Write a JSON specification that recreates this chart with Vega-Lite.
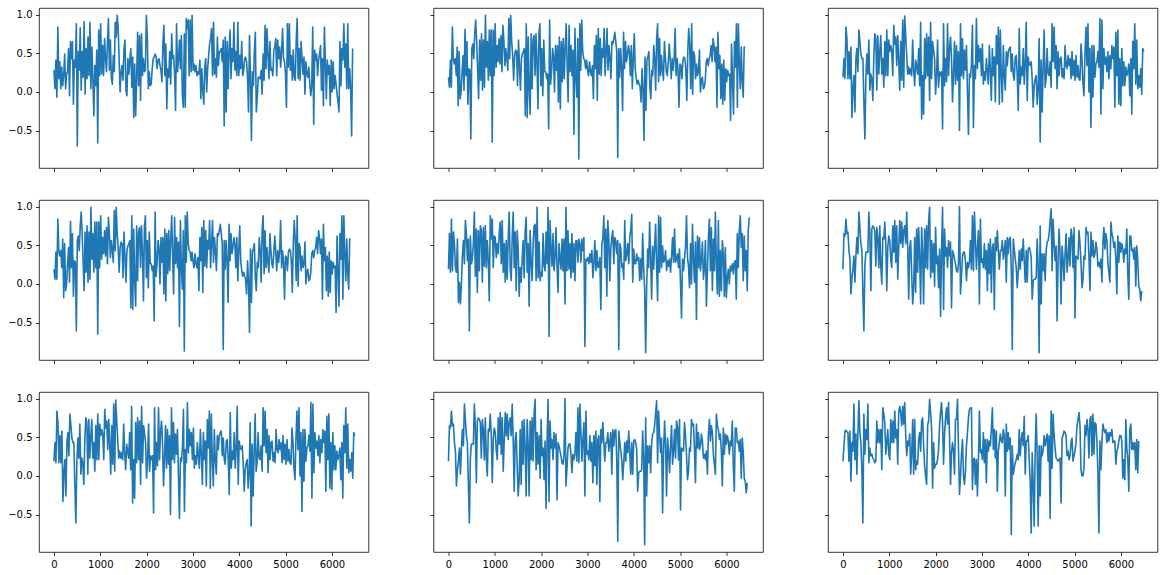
{
"$schema": "https://vega.github.io/schema/vega-lite/v6.json",
"background": "white",
"padding": {"left": 7, "top": 7, "right": 5, "bottom": 5},
"bounds": "flush",
"columns": 3,
"spacing": {"row": 32, "column": 64.5},
"resolve": {"scale": {"x": "independent", "y": "independent"}, "axis": {"x": "independent", "y": "independent"}},
"config": {
"view": {"stroke": "#000", "strokeWidth": 0.8},
"axis": {"grid": false, "domain": false, "tickColor": "#000", "tickSize": 3.5, "tickWidth": 0.8, "labelColor": "#000", "labelFont": "DejaVu Sans", "labelFontSize": 10, "labelPadding": 3.5, "labelFlush": false},
"line": {"color": "#1f77b4", "strokeWidth": 1.6, "strokeJoin": "round"}
},
"datasets": {
"A": [{"x":0,"y":0.28},{"x":21,"y":0.04},{"x":42,"y":0.41},{"x":63,"y":-0.07},{"x":84,"y":0.84},{"x":105,"y":0.17},{"x":126,"y":0.39},{"x":147,"y":0.04},{"x":168,"y":0.32},{"x":189,"y":0.08},
{"x":210,"y":0.21},{"x":231,"y":0.49},{"x":252,"y":0.04},{"x":273,"y":0.23},{"x":294,"y":0.26},{"x":315,"y":0.56},{"x":336,"y":-0.05},{"x":357,"y":0.65},{"x":378,"y":0.43},{"x":399,"y":0.65},
{"x":420,"y":-0.16},{"x":441,"y":0.41},{"x":462,"y":0.32},{"x":483,"y":0.88},{"x":504,"y":-0.70},{"x":525,"y":0.52},{"x":546,"y":0.28},{"x":567,"y":0.83},{"x":588,"y":0.02},{"x":609,"y":0.52},
{"x":630,"y":0.19},{"x":651,"y":0.91},{"x":672,"y":-0.03},{"x":693,"y":0.56},{"x":714,"y":0.17},{"x":735,"y":0.71},{"x":756,"y":0.21},{"x":777,"y":0.90},{"x":798,"y":0.04},{"x":819,"y":0.58},
{"x":840,"y":0.17},{"x":861,"y":-0.31},{"x":882,"y":0.34},{"x":903,"y":0.08},{"x":924,"y":0.54},{"x":945,"y":-0.66},{"x":966,"y":0.80},{"x":987,"y":0.21},{"x":1008,"y":0.88},{"x":1029,"y":0.23},
{"x":1050,"y":0.60},{"x":1071,"y":0.21},{"x":1092,"y":0.69},{"x":1113,"y":0.43},{"x":1134,"y":0.26},{"x":1155,"y":0.65},{"x":1176,"y":0.95},{"x":1197,"y":0.28},{"x":1218,"y":0.67},{"x":1239,"y":0.17},
{"x":1260,"y":0.10},{"x":1281,"y":0.47},{"x":1302,"y":0.26},{"x":1323,"y":0.90},{"x":1344,"y":0.71},{"x":1365,"y":0.99},{"x":1386,"y":0.82},{"x":1407,"y":0.41},{"x":1428,"y":0.00},{"x":1449,"y":0.26},
{"x":1470,"y":0.34},{"x":1491,"y":0.15},{"x":1512,"y":0.56},{"x":1533,"y":0.67},{"x":1554,"y":0.02},{"x":1575,"y":-0.05},{"x":1596,"y":0.43},{"x":1617,"y":0.23},{"x":1638,"y":0.41},{"x":1659,"y":0.56},
{"x":1680,"y":0.06},{"x":1701,"y":0.45},{"x":1722,"y":-0.33},{"x":1743,"y":0.36},{"x":1764,"y":-0.31},{"x":1785,"y":0.17},{"x":1806,"y":0.77},{"x":1827,"y":0.08},{"x":1848,"y":0.73},{"x":1869,"y":-0.11},
{"x":1890,"y":0.75},{"x":1911,"y":0.21},{"x":1932,"y":0.43},{"x":1953,"y":0.26},{"x":1974,"y":0.28},{"x":1995,"y":0.99},{"x":2016,"y":0.69},{"x":2037,"y":0.04},{"x":2058,"y":0.26},{"x":2079,"y":0.08},
{"x":2100,"y":0.10},{"x":2121,"y":0.30},{"x":2142,"y":0.43},{"x":2163,"y":0.45},{"x":2184,"y":0.49},{"x":2205,"y":0.45},{"x":2226,"y":0.30},{"x":2247,"y":0.41},{"x":2268,"y":0.43},{"x":2289,"y":0.34},
{"x":2310,"y":0.28},{"x":2331,"y":0.13},{"x":2352,"y":0.62},{"x":2373,"y":0.86},{"x":2394,"y":0.21},{"x":2415,"y":0.62},{"x":2436,"y":-0.22},{"x":2457,"y":0.30},{"x":2478,"y":0.19},{"x":2499,"y":0.52},
{"x":2520,"y":0.10},{"x":2541,"y":0.75},{"x":2562,"y":0.43},{"x":2583,"y":0.47},{"x":2604,"y":0.23},{"x":2625,"y":-0.24},{"x":2646,"y":0.88},{"x":2667,"y":0.26},{"x":2688,"y":0.41},{"x":2709,"y":0.67},
{"x":2730,"y":0.30},{"x":2751,"y":0.73},{"x":2772,"y":-0.05},{"x":2793,"y":-0.20},{"x":2814,"y":0.75},{"x":2835,"y":-0.20},{"x":2856,"y":0.95},{"x":2877,"y":0.82},{"x":2898,"y":0.93},{"x":2919,"y":0.21},
{"x":2940,"y":0.93},{"x":2961,"y":0.26},{"x":2982,"y":0.99},{"x":3003,"y":0.28},{"x":3024,"y":0.36},{"x":3045,"y":0.26},{"x":3066,"y":0.34},{"x":3087,"y":0.21},{"x":3108,"y":0.26},{"x":3129,"y":0.23},
{"x":3150,"y":0.41},{"x":3171,"y":-0.09},{"x":3192,"y":0.30},{"x":3213,"y":0.02},{"x":3234,"y":-0.16},{"x":3255,"y":0.32},{"x":3276,"y":0.43},{"x":3297,"y":0.00},{"x":3318,"y":0.30},{"x":3339,"y":0.47},
{"x":3360,"y":0.62},{"x":3381,"y":0.69},{"x":3402,"y":0.82},{"x":3423,"y":0.21},{"x":3444,"y":0.90},{"x":3465,"y":0.23},{"x":3486,"y":0.43},{"x":3507,"y":0.19},{"x":3528,"y":0.71},{"x":3549,"y":0.34},
{"x":3570,"y":0.52},{"x":3591,"y":0.52},{"x":3612,"y":0.56},{"x":3633,"y":0.39},{"x":3654,"y":0.67},{"x":3675,"y":-0.44},{"x":3696,"y":0.71},{"x":3717,"y":-0.26},{"x":3738,"y":0.65},{"x":3759,"y":0.04},
{"x":3780,"y":0.54},{"x":3801,"y":0.80},{"x":3822,"y":0.17},{"x":3843,"y":0.56},{"x":3864,"y":0.39},{"x":3885,"y":0.90},{"x":3906,"y":0.28},{"x":3927,"y":0.52},{"x":3948,"y":0.21},{"x":3969,"y":0.90},
{"x":3990,"y":0.21},{"x":4011,"y":0.47},{"x":4032,"y":0.30},{"x":4053,"y":0.65},{"x":4074,"y":0.21},{"x":4095,"y":0.28},{"x":4116,"y":0.43},{"x":4137,"y":0.45},{"x":4158,"y":0.39},{"x":4179,"y":0.19},
{"x":4200,"y":-0.26},{"x":4221,"y":0.73},{"x":4242,"y":0.19},{"x":4263,"y":-0.63},{"x":4284,"y":0.26},{"x":4305,"y":0.08},{"x":4326,"y":0.52},{"x":4347,"y":0.77},{"x":4368,"y":-0.26},{"x":4389,"y":-0.07},
{"x":4410,"y":0.19},{"x":4431,"y":0.19},{"x":4452,"y":0.17},{"x":4473,"y":0.28},{"x":4494,"y":-0.03},{"x":4515,"y":0.49},{"x":4536,"y":0.15},{"x":4557,"y":0.86},{"x":4578,"y":0.30},{"x":4599,"y":0.82},
{"x":4620,"y":0.49},{"x":4641,"y":0.17},{"x":4662,"y":0.65},{"x":4683,"y":0.28},{"x":4704,"y":0.30},{"x":4725,"y":0.21},{"x":4746,"y":0.54},{"x":4767,"y":0.58},{"x":4788,"y":0.69},{"x":4809,"y":0.21},
{"x":4830,"y":0.67},{"x":4851,"y":0.43},{"x":4872,"y":0.58},{"x":4893,"y":0.32},{"x":4914,"y":0.52},{"x":4935,"y":0.82},{"x":4956,"y":0.43},{"x":4977,"y":0.39},{"x":4998,"y":0.23},{"x":5019,"y":-0.20},
{"x":5040,"y":0.88},{"x":5061,"y":0.32},{"x":5082,"y":0.88},{"x":5103,"y":0.28},{"x":5124,"y":0.47},{"x":5145,"y":0.15},{"x":5166,"y":0.54},{"x":5187,"y":0.19},{"x":5208,"y":0.15},{"x":5229,"y":0.65},
{"x":5250,"y":0.95},{"x":5271,"y":0.17},{"x":5292,"y":0.56},{"x":5313,"y":0.15},{"x":5334,"y":0.65},{"x":5355,"y":0.43},{"x":5376,"y":0.23},{"x":5397,"y":0.45},{"x":5418,"y":-0.03},{"x":5439,"y":0.39},
{"x":5460,"y":0.23},{"x":5481,"y":0.19},{"x":5502,"y":0.32},{"x":5523,"y":0.10},{"x":5544,"y":-0.05},{"x":5565,"y":0.08},{"x":5586,"y":0.84},{"x":5607,"y":-0.42},{"x":5628,"y":0.54},{"x":5649,"y":0.41},
{"x":5670,"y":0.49},{"x":5691,"y":0.21},{"x":5712,"y":0.41},{"x":5733,"y":0.49},{"x":5754,"y":0.60},{"x":5775,"y":0.02},{"x":5796,"y":0.43},{"x":5817,"y":-0.18},{"x":5838,"y":0.84},{"x":5859,"y":0.39},
{"x":5880,"y":-0.09},{"x":5901,"y":0.41},{"x":5922,"y":0.23},{"x":5943,"y":0.34},{"x":5964,"y":-0.18},{"x":5985,"y":0.41},{"x":6006,"y":0.00},{"x":6027,"y":0.39},{"x":6048,"y":0.04},{"x":6069,"y":0.21},
{"x":6090,"y":0.10},{"x":6111,"y":-0.03},{"x":6132,"y":-0.13},{"x":6153,"y":-0.26},{"x":6174,"y":0.65},{"x":6195,"y":0.08},{"x":6216,"y":0.56},{"x":6237,"y":0.41},{"x":6258,"y":0.88},{"x":6279,"y":0.32},
{"x":6300,"y":0.62},{"x":6321,"y":0.04},{"x":6342,"y":0.88},{"x":6363,"y":0.04},{"x":6384,"y":0.30},{"x":6405,"y":0.04},{"x":6426,"y":-0.57},{"x":6447,"y":0.56}],
"B": [{"x":0,"y":0.19},{"x":21,"y":0.06},{"x":42,"y":0.41},{"x":63,"y":0.06},{"x":84,"y":0.84},{"x":105,"y":0.43},{"x":126,"y":0.36},{"x":147,"y":0.43},{"x":168,"y":0.21},{"x":189,"y":0.58},
{"x":210,"y":-0.18},{"x":231,"y":0.52},{"x":252,"y":-0.09},{"x":273,"y":0.00},{"x":294,"y":0.26},{"x":315,"y":0.47},{"x":336,"y":0.02},{"x":357,"y":0.81},{"x":378,"y":0.21},{"x":399,"y":0.65},
{"x":420,"y":-0.16},{"x":441,"y":0.30},{"x":462,"y":0.28},{"x":483,"y":-0.61},{"x":504,"y":0.56},{"x":525,"y":0.62},{"x":546,"y":0.43},{"x":567,"y":0.75},{"x":588,"y":0.93},{"x":609,"y":0.65},
{"x":630,"y":0.28},{"x":651,"y":-0.09},{"x":672,"y":0.67},{"x":693,"y":0.15},{"x":714,"y":0.75},{"x":735,"y":0.02},{"x":756,"y":0.67},{"x":777,"y":0.06},{"x":798,"y":0.99},{"x":819,"y":0.32},
{"x":840,"y":0.65},{"x":861,"y":0.15},{"x":882,"y":0.80},{"x":903,"y":0.21},{"x":924,"y":0.80},{"x":945,"y":-0.65},{"x":966,"y":0.80},{"x":987,"y":0.21},{"x":1008,"y":0.88},{"x":1029,"y":0.32},
{"x":1050,"y":0.60},{"x":1071,"y":0.39},{"x":1092,"y":0.69},{"x":1113,"y":0.36},{"x":1134,"y":0.73},{"x":1155,"y":0.26},{"x":1176,"y":0.86},{"x":1197,"y":0.65},{"x":1218,"y":0.34},{"x":1239,"y":0.56},
{"x":1260,"y":0.43},{"x":1281,"y":0.28},{"x":1302,"y":0.95},{"x":1323,"y":0.43},{"x":1344,"y":0.99},{"x":1365,"y":0.65},{"x":1386,"y":0.47},{"x":1407,"y":0.15},{"x":1428,"y":0.47},{"x":1449,"y":0.54},
{"x":1470,"y":0.52},{"x":1491,"y":0.08},{"x":1512,"y":0.67},{"x":1533,"y":0.34},{"x":1554,"y":0.02},{"x":1575,"y":0.43},{"x":1596,"y":0.49},{"x":1617,"y":0.52},{"x":1638,"y":0.56},{"x":1659,"y":-0.31},
{"x":1680,"y":0.88},{"x":1701,"y":-0.33},{"x":1722,"y":0.71},{"x":1743,"y":0.02},{"x":1764,"y":-0.29},{"x":1785,"y":0.75},{"x":1806,"y":0.04},{"x":1827,"y":0.67},{"x":1848,"y":0.73},{"x":1869,"y":0.21},
{"x":1890,"y":0.75},{"x":1911,"y":0.39},{"x":1932,"y":-0.22},{"x":1953,"y":0.75},{"x":1974,"y":0.88},{"x":1995,"y":0.08},{"x":2016,"y":0.56},{"x":2037,"y":-0.05},{"x":2058,"y":0.67},{"x":2079,"y":0.26},
{"x":2100,"y":0.26},{"x":2121,"y":0.17},{"x":2142,"y":0.23},{"x":2163,"y":-0.48},{"x":2184,"y":0.93},{"x":2205,"y":0.10},{"x":2226,"y":0.26},{"x":2247,"y":0.56},{"x":2268,"y":0.47},{"x":2289,"y":0.00},
{"x":2310,"y":0.60},{"x":2331,"y":0.28},{"x":2352,"y":0.60},{"x":2373,"y":-0.13},{"x":2394,"y":0.71},{"x":2415,"y":-0.22},{"x":2436,"y":0.65},{"x":2457,"y":0.13},{"x":2478,"y":0.69},{"x":2499,"y":0.17},
{"x":2520,"y":0.56},{"x":2541,"y":0.88},{"x":2562,"y":0.36},{"x":2583,"y":-0.13},{"x":2604,"y":0.86},{"x":2625,"y":0.26},{"x":2646,"y":0.60},{"x":2667,"y":0.21},{"x":2688,"y":0.54},{"x":2709,"y":-0.55},
{"x":2730,"y":0.82},{"x":2751,"y":0.21},{"x":2772,"y":-0.07},{"x":2793,"y":0.69},{"x":2814,"y":-0.87},{"x":2835,"y":0.88},{"x":2856,"y":0.28},{"x":2877,"y":0.93},{"x":2898,"y":0.52},{"x":2919,"y":0.43},
{"x":2940,"y":0.41},{"x":2961,"y":0.30},{"x":2982,"y":0.41},{"x":3003,"y":0.28},{"x":3024,"y":0.21},{"x":3045,"y":0.39},{"x":3066,"y":0.26},{"x":3087,"y":0.21},{"x":3108,"y":0.34},{"x":3129,"y":-0.09},
{"x":3150,"y":0.60},{"x":3171,"y":0.30},{"x":3192,"y":0.73},{"x":3213,"y":-0.11},{"x":3234,"y":0.82},{"x":3255,"y":0.23},{"x":3276,"y":0.69},{"x":3297,"y":0.21},{"x":3318,"y":0.56},{"x":3339,"y":0.45},
{"x":3360,"y":0.82},{"x":3381,"y":0.21},{"x":3402,"y":0.52},{"x":3423,"y":0.82},{"x":3444,"y":0.28},{"x":3465,"y":0.60},{"x":3486,"y":0.43},{"x":3507,"y":0.17},{"x":3528,"y":0.65},{"x":3549,"y":0.62},
{"x":3570,"y":0.69},{"x":3591,"y":0.77},{"x":3612,"y":0.65},{"x":3633,"y":0.52},{"x":3654,"y":-0.85},{"x":3675,"y":0.56},{"x":3696,"y":0.19},{"x":3717,"y":0.56},{"x":3738,"y":0.30},{"x":3759,"y":-0.24},
{"x":3780,"y":0.77},{"x":3801,"y":0.30},{"x":3822,"y":0.65},{"x":3843,"y":0.39},{"x":3864,"y":0.47},{"x":3885,"y":0.60},{"x":3906,"y":0.52},{"x":3927,"y":0.21},{"x":3948,"y":0.60},{"x":3969,"y":0.04},
{"x":3990,"y":0.43},{"x":4011,"y":0.75},{"x":4032,"y":0.30},{"x":4053,"y":0.17},{"x":4074,"y":0.10},{"x":4095,"y":0.15},{"x":4116,"y":0.10},{"x":4137,"y":0.06},{"x":4158,"y":-0.13},{"x":4179,"y":0.30},
{"x":4200,"y":0.04},{"x":4221,"y":-0.63},{"x":4242,"y":0.45},{"x":4263,"y":-0.24},{"x":4284,"y":0.41},{"x":4305,"y":0.45},{"x":4326,"y":0.52},{"x":4347,"y":0.08},{"x":4368,"y":-0.09},{"x":4389,"y":0.28},
{"x":4410,"y":0.21},{"x":4431,"y":0.60},{"x":4452,"y":0.43},{"x":4473,"y":0.02},{"x":4494,"y":0.69},{"x":4515,"y":0.88},{"x":4536,"y":0.13},{"x":4557,"y":0.69},{"x":4578,"y":0.21},{"x":4599,"y":0.47},
{"x":4620,"y":0.28},{"x":4641,"y":0.15},{"x":4662,"y":0.65},{"x":4683,"y":0.43},{"x":4704,"y":0.26},{"x":4725,"y":0.21},{"x":4746,"y":0.41},{"x":4767,"y":0.62},{"x":4788,"y":0.41},{"x":4809,"y":0.17},
{"x":4830,"y":0.43},{"x":4851,"y":0.28},{"x":4872,"y":0.43},{"x":4893,"y":0.82},{"x":4914,"y":0.21},{"x":4935,"y":0.43},{"x":4956,"y":0.28},{"x":4977,"y":-0.20},{"x":4998,"y":0.36},{"x":5019,"y":0.34},
{"x":5040,"y":0.17},{"x":5061,"y":0.41},{"x":5082,"y":0.45},{"x":5103,"y":0.43},{"x":5124,"y":0.30},{"x":5145,"y":-0.11},{"x":5166,"y":0.52},{"x":5187,"y":0.82},{"x":5208,"y":0.58},{"x":5229,"y":0.04},
{"x":5250,"y":0.88},{"x":5271,"y":-0.03},{"x":5292,"y":0.52},{"x":5313,"y":0.47},{"x":5334,"y":0.17},{"x":5355,"y":0.36},{"x":5376,"y":0.21},{"x":5397,"y":0.26},{"x":5418,"y":0.54},{"x":5439,"y":0.00},
{"x":5460,"y":0.15},{"x":5481,"y":0.19},{"x":5502,"y":0.04},{"x":5523,"y":0.06},{"x":5544,"y":0.15},{"x":5565,"y":0.39},{"x":5586,"y":0.43},{"x":5607,"y":0.34},{"x":5628,"y":0.43},{"x":5649,"y":0.47},
{"x":5670,"y":0.60},{"x":5691,"y":0.39},{"x":5712,"y":0.69},{"x":5733,"y":0.60},{"x":5754,"y":0.39},{"x":5775,"y":0.58},{"x":5796,"y":-0.20},{"x":5817,"y":0.77},{"x":5838,"y":0.30},{"x":5859,"y":0.47},
{"x":5880,"y":-0.09},{"x":5901,"y":0.36},{"x":5922,"y":-0.16},{"x":5943,"y":0.41},{"x":5964,"y":-0.11},{"x":5985,"y":0.30},{"x":6006,"y":0.13},{"x":6027,"y":0.28},{"x":6048,"y":0.21},{"x":6069,"y":0.23},
{"x":6090,"y":-0.37},{"x":6111,"y":0.62},{"x":6132,"y":0.17},{"x":6153,"y":-0.29},{"x":6174,"y":0.65},{"x":6195,"y":0.32},{"x":6216,"y":0.88},{"x":6237,"y":-0.20},{"x":6258,"y":0.88},{"x":6279,"y":0.39},
{"x":6300,"y":0.04},{"x":6321,"y":0.58},{"x":6342,"y":0.13},{"x":6363,"y":-0.07},{"x":6384,"y":0.58},{"x":6405,"y":0.58}],
"C": [{"x":0,"y":0.19},{"x":21.5,"y":0.43},{"x":43,"y":0.17},{"x":64.5,"y":0.84},{"x":86,"y":0.69},{"x":107.5,"y":0.17},{"x":129,"y":0.52},{"x":150.5,"y":0.17},{"x":172,"y":0.58},{"x":193.5,"y":-0.33},
{"x":215,"y":0.04},{"x":236.5,"y":0.21},{"x":258,"y":-0.26},{"x":279.5,"y":0.43},{"x":301,"y":0.56},{"x":322.5,"y":0.26},{"x":344,"y":0.80},{"x":365.5,"y":0.65},{"x":387,"y":0.49},{"x":408.5,"y":0.43},
{"x":430,"y":0.43},{"x":451.5,"y":-0.13},{"x":473,"y":-0.61},{"x":494.5,"y":0.19},{"x":516,"y":0.49},{"x":537.5,"y":0.23},{"x":559,"y":0.67},{"x":580.5,"y":0.02},{"x":602,"y":0.23},{"x":623.5,"y":0.17},
{"x":645,"y":-0.11},{"x":666.5,"y":0.47},{"x":688,"y":0.75},{"x":709.5,"y":0.69},{"x":731,"y":0.02},{"x":752.5,"y":0.73},{"x":774,"y":0.23},{"x":795.5,"y":0.52},{"x":817,"y":0.73},{"x":838.5,"y":0.23},
{"x":860,"y":0.43},{"x":881.5,"y":0.06},{"x":903,"y":0.65},{"x":924.5,"y":0.21},{"x":946,"y":0.80},{"x":967.5,"y":0.21},{"x":989,"y":0.67},{"x":1010.5,"y":0.52},{"x":1032,"y":0.60},{"x":1053.5,"y":0.54},
{"x":1075,"y":0.21},{"x":1096.5,"y":0.86},{"x":1118,"y":0.62},{"x":1139.5,"y":0.71},{"x":1161,"y":0.34},{"x":1182.5,"y":0.73},{"x":1204,"y":0.41},{"x":1225.5,"y":0.02},{"x":1247,"y":0.65},{"x":1268.5,"y":0.15},
{"x":1290,"y":0.93},{"x":1311.5,"y":0.06},{"x":1333,"y":0.98},{"x":1354.5,"y":0.73},{"x":1376,"y":0.47},{"x":1397.5,"y":0.23},{"x":1419,"y":0.32},{"x":1440.5,"y":0.23},{"x":1462,"y":0.30},{"x":1483.5,"y":0.21},
{"x":1505,"y":0.67},{"x":1526.5,"y":0.28},{"x":1548,"y":0.08},{"x":1569.5,"y":0.41},{"x":1591,"y":0.32},{"x":1612.5,"y":0.23},{"x":1634,"y":0.56},{"x":1655.5,"y":0.08},{"x":1677,"y":0.90},{"x":1698.5,"y":-0.35},
{"x":1720,"y":0.21},{"x":1741.5,"y":-0.29},{"x":1763,"y":0.69},{"x":1784.5,"y":0.17},{"x":1806,"y":0.75},{"x":1827.5,"y":0.21},{"x":1849,"y":0.71},{"x":1870.5,"y":-0.11},{"x":1892,"y":0.90},{"x":1913.5,"y":0.17},
{"x":1935,"y":0.65},{"x":1956.5,"y":0.54},{"x":1978,"y":0.43},{"x":1999.5,"y":-0.03},{"x":2021,"y":0.21},{"x":2042.5,"y":0.67},{"x":2064,"y":0.06},{"x":2085.5,"y":0.26},{"x":2107,"y":0.21},{"x":2128.5,"y":0.26},
{"x":2150,"y":-0.48},{"x":2171.5,"y":0.88},{"x":2193,"y":0.08},{"x":2214.5,"y":0.43},{"x":2236,"y":0.13},{"x":2257.5,"y":0.88},{"x":2279,"y":0.21},{"x":2300.5,"y":0.56},{"x":2322,"y":0.71},{"x":2343.5,"y":0.43},
{"x":2365,"y":-0.13},{"x":2386.5,"y":0.23},{"x":2408,"y":0.65},{"x":2429.5,"y":0.10},{"x":2451,"y":0.60},{"x":2472.5,"y":0.15},{"x":2494,"y":0.52},{"x":2515.5,"y":-0.50},{"x":2537,"y":0.88},{"x":2558.5,"y":0.21},
{"x":2580,"y":0.69},{"x":2601.5,"y":0.17},{"x":2623,"y":0.54},{"x":2644.5,"y":0.28},{"x":2666,"y":0.60},{"x":2687.5,"y":0.00},{"x":2709,"y":-0.55},{"x":2730.5,"y":0.23},{"x":2752,"y":0.19},{"x":2773.5,"y":0.36},
{"x":2795,"y":0.86},{"x":2816.5,"y":-0.46},{"x":2838,"y":0.34},{"x":2859.5,"y":0.17},{"x":2881,"y":0.95},{"x":2902.5,"y":0.30},{"x":2924,"y":0.60},{"x":2945.5,"y":0.39},{"x":2967,"y":0.56},{"x":2988.5,"y":0.21},
{"x":3010,"y":0.62},{"x":3031.5,"y":0.10},{"x":3053,"y":0.26},{"x":3074.5,"y":0.15},{"x":3096,"y":0.43},{"x":3117.5,"y":0.26},{"x":3139,"y":0.10},{"x":3160.5,"y":0.60},{"x":3182,"y":0.28},{"x":3203.5,"y":-0.11},
{"x":3225,"y":0.56},{"x":3246.5,"y":0.21},{"x":3268,"y":0.45},{"x":3289.5,"y":-0.13},{"x":3311,"y":0.73},{"x":3332.5,"y":0.36},{"x":3354,"y":0.84},{"x":3375.5,"y":-0.16},{"x":3397,"y":0.80},{"x":3418.5,"y":0.21},
{"x":3440,"y":-0.13},{"x":3461.5,"y":0.60},{"x":3483,"y":0.21},{"x":3504.5,"y":0.02},{"x":3526,"y":0.52},{"x":3547.5,"y":0.34},{"x":3569,"y":0.52},{"x":3590.5,"y":0.56},{"x":3612,"y":0.58},{"x":3633.5,"y":0.26},
{"x":3655,"y":0.49},{"x":3676.5,"y":0.21},{"x":3698,"y":0.15},{"x":3719.5,"y":0.45},{"x":3741,"y":0.47},{"x":3762.5,"y":0.21},{"x":3784,"y":-0.24},{"x":3805.5,"y":0.82},{"x":3827,"y":0.10},{"x":3848.5,"y":0.32},
{"x":3870,"y":0.21},{"x":3891.5,"y":0.56},{"x":3913,"y":0.10},{"x":3934.5,"y":0.36},{"x":3956,"y":0.90},{"x":3977.5,"y":-0.11},{"x":3999,"y":0.45},{"x":4020.5,"y":0.36},{"x":4042,"y":0.34},{"x":4063.5,"y":0.39},
{"x":4085,"y":0.17},{"x":4106.5,"y":-0.20},{"x":4128,"y":0.08},{"x":4149.5,"y":0.17},{"x":4171,"y":0.21},{"x":4192.5,"y":-0.16},{"x":4214,"y":0.04},{"x":4235.5,"y":0.69},{"x":4257,"y":-0.65},{"x":4278.5,"y":0.41},
{"x":4300,"y":-0.26},{"x":4321.5,"y":0.32},{"x":4343,"y":0.80},{"x":4364.5,"y":0.06},{"x":4386,"y":0.17},{"x":4407.5,"y":0.56},{"x":4429,"y":0.23},{"x":4450.5,"y":0.21},{"x":4472,"y":0.39},{"x":4493.5,"y":0.06},
{"x":4515,"y":0.88},{"x":4536.5,"y":0.39},{"x":4558,"y":0.84},{"x":4579.5,"y":0.30},{"x":4601,"y":0.60},{"x":4622.5,"y":0.04},{"x":4644,"y":0.52},{"x":4665.5,"y":0.21},{"x":4687,"y":0.43},{"x":4708.5,"y":0.45},
{"x":4730,"y":0.19},{"x":4751.5,"y":0.30},{"x":4773,"y":0.17},{"x":4794.5,"y":0.60},{"x":4816,"y":0.34},{"x":4837.5,"y":0.30},{"x":4859,"y":0.47},{"x":4880.5,"y":0.34},{"x":4902,"y":0.43},{"x":4923.5,"y":0.17},
{"x":4945,"y":0.52},{"x":4966.5,"y":0.21},{"x":4988,"y":0.41},{"x":5009.5,"y":0.15},{"x":5031,"y":0.47},{"x":5052.5,"y":0.19},{"x":5074,"y":0.34},{"x":5095.5,"y":0.17},{"x":5117,"y":0.15},{"x":5138.5,"y":0.62},
{"x":5160,"y":0.43},{"x":5181.5,"y":0.10},{"x":5203,"y":-0.05},{"x":5224.5,"y":0.49},{"x":5246,"y":0.84},{"x":5267.5,"y":0.34},{"x":5289,"y":0.88},{"x":5310.5,"y":0.00},{"x":5332,"y":0.56},{"x":5353.5,"y":-0.46},
{"x":5375,"y":0.60},{"x":5396.5,"y":-0.07},{"x":5418,"y":0.60},{"x":5439.5,"y":0.19},{"x":5461,"y":0.36},{"x":5482.5,"y":0.39},{"x":5504,"y":0.52},{"x":5525.5,"y":0.32},{"x":5547,"y":0.95},{"x":5568.5,"y":-0.29},
{"x":5590,"y":0.93},{"x":5611.5,"y":0.04},{"x":5633,"y":0.56},{"x":5654.5,"y":0.36},{"x":5676,"y":0.45},{"x":5697.5,"y":0.26},{"x":5719,"y":0.52},{"x":5740.5,"y":0.17},{"x":5762,"y":0.47},{"x":5783.5,"y":0.30},
{"x":5805,"y":0.60},{"x":5826.5,"y":0.43},{"x":5848,"y":0.58},{"x":5869.5,"y":-0.20},{"x":5891,"y":0.77},{"x":5912.5,"y":0.21},{"x":5934,"y":0.80},{"x":5955.5,"y":-0.16},{"x":5977,"y":0.43},{"x":5998.5,"y":-0.18},
{"x":6020,"y":0.56},{"x":6041.5,"y":0.08},{"x":6063,"y":0.39},{"x":6084.5,"y":0.08},{"x":6106,"y":0.32},{"x":6127.5,"y":0.21},{"x":6149,"y":0.26},{"x":6170.5,"y":0.36},{"x":6192,"y":-0.05},{"x":6213.5,"y":0.43},
{"x":6235,"y":-0.29},{"x":6256.5,"y":0.65},{"x":6278,"y":0.30},{"x":6299.5,"y":0.88},{"x":6321,"y":0.10},{"x":6342.5,"y":0.67},{"x":6364,"y":0.04},{"x":6385.5,"y":0.21},{"x":6407,"y":0.06},{"x":6428.5,"y":0.30},
{"x":6450,"y":-0.03},{"x":6471.5,"y":0.56},{"x":6493,"y":0.52}],
"D": [{"x":0,"y":0.19},{"x":21.5,"y":0.65},{"x":43,"y":0.15},{"x":64.5,"y":0.84},{"x":86,"y":0.17},{"x":107.5,"y":0.67},{"x":129,"y":0.52},{"x":150.5,"y":0.21},{"x":172,"y":0.15},{"x":193.5,"y":0.58},
{"x":215,"y":-0.24},{"x":236.5,"y":0.02},{"x":258,"y":-0.26},{"x":279.5,"y":0.00},{"x":301,"y":0.36},{"x":322.5,"y":0.56},{"x":344,"y":0.26},{"x":365.5,"y":0.82},{"x":387,"y":0.65},{"x":408.5,"y":0.30},
{"x":430,"y":0.58},{"x":451.5,"y":-0.61},{"x":473,"y":0.62},{"x":494.5,"y":0.26},{"x":516,"y":0.32},{"x":537.5,"y":0.52},{"x":559,"y":0.93},{"x":580.5,"y":0.10},{"x":602,"y":0.71},{"x":623.5,"y":-0.11},
{"x":645,"y":0.69},{"x":666.5,"y":0.17},{"x":688,"y":0.75},{"x":709.5,"y":0.69},{"x":731,"y":0.02},{"x":752.5,"y":0.73},{"x":774,"y":0.23},{"x":795.5,"y":0.75},{"x":817,"y":0.21},{"x":838.5,"y":0.56},
{"x":860,"y":0.30},{"x":881.5,"y":-0.22},{"x":903,"y":0.88},{"x":924.5,"y":0.58},{"x":946,"y":0.84},{"x":967.5,"y":0.21},{"x":989,"y":0.62},{"x":1010.5,"y":0.60},{"x":1032,"y":0.34},{"x":1053.5,"y":0.52},
{"x":1075,"y":0.39},{"x":1096.5,"y":0.67},{"x":1118,"y":0.80},{"x":1139.5,"y":0.26},{"x":1161,"y":0.82},{"x":1182.5,"y":0.15},{"x":1204,"y":0.52},{"x":1225.5,"y":0.02},{"x":1247,"y":0.56},{"x":1268.5,"y":0.06},
{"x":1290,"y":0.60},{"x":1311.5,"y":0.93},{"x":1333,"y":0.19},{"x":1354.5,"y":0.04},{"x":1376,"y":0.62},{"x":1397.5,"y":0.93},{"x":1419,"y":0.21},{"x":1440.5,"y":0.67},{"x":1462,"y":-0.09},{"x":1483.5,"y":0.69},
{"x":1505,"y":0.45},{"x":1526.5,"y":-0.16},{"x":1548,"y":0.21},{"x":1569.5,"y":0.02},{"x":1591,"y":0.32},{"x":1612.5,"y":0.56},{"x":1634,"y":0.08},{"x":1655.5,"y":0.69},{"x":1677,"y":0.86},{"x":1698.5,"y":0.15},
{"x":1720,"y":0.52},{"x":1741.5,"y":-0.29},{"x":1763,"y":0.69},{"x":1784.5,"y":0.28},{"x":1806,"y":0.04},{"x":1827.5,"y":0.52},{"x":1849,"y":0.75},{"x":1870.5,"y":0.77},{"x":1892,"y":0.04},{"x":1913.5,"y":0.99},
{"x":1935,"y":0.08},{"x":1956.5,"y":0.54},{"x":1978,"y":0.04},{"x":1999.5,"y":0.15},{"x":2021,"y":0.10},{"x":2042.5,"y":0.65},{"x":2064,"y":0.23},{"x":2085.5,"y":0.17},{"x":2107,"y":0.67},{"x":2128.5,"y":0.26},
{"x":2150,"y":0.99},{"x":2171.5,"y":-0.68},{"x":2193,"y":0.82},{"x":2214.5,"y":0.47},{"x":2236,"y":0.23},{"x":2257.5,"y":0.65},{"x":2279,"y":0.17},{"x":2300.5,"y":0.34},{"x":2322,"y":0.73},{"x":2343.5,"y":0.21},
{"x":2365,"y":-0.11},{"x":2386.5,"y":0.52},{"x":2408,"y":0.34},{"x":2429.5,"y":0.19},{"x":2451,"y":0.58},{"x":2472.5,"y":0.17},{"x":2494,"y":0.58},{"x":2515.5,"y":-0.26},{"x":2537,"y":0.99},{"x":2558.5,"y":0.17},
{"x":2580,"y":0.69},{"x":2601.5,"y":0.19},{"x":2623,"y":0.52},{"x":2644.5,"y":0.08},{"x":2666,"y":0.65},{"x":2687.5,"y":0.15},{"x":2709,"y":0.52},{"x":2730.5,"y":0.04},{"x":2752,"y":0.56},{"x":2773.5,"y":0.56},
{"x":2795,"y":0.28},{"x":2816.5,"y":0.58},{"x":2838,"y":0.52},{"x":2859.5,"y":0.28},{"x":2881,"y":0.58},{"x":2902.5,"y":0.43},{"x":2924,"y":0.60},{"x":2945.5,"y":-0.81},{"x":2967,"y":0.32},{"x":2988.5,"y":0.30},
{"x":3010,"y":0.34},{"x":3031.5,"y":0.26},{"x":3053,"y":0.39},{"x":3074.5,"y":0.28},{"x":3096,"y":0.43},{"x":3117.5,"y":0.08},{"x":3139,"y":0.26},{"x":3160.5,"y":0.56},{"x":3182,"y":0.17},{"x":3203.5,"y":0.43},
{"x":3225,"y":0.21},{"x":3246.5,"y":0.23},{"x":3268,"y":0.34},{"x":3289.5,"y":-0.33},{"x":3311,"y":0.52},{"x":3332.5,"y":0.58},{"x":3354,"y":0.88},{"x":3375.5,"y":0.21},{"x":3397,"y":0.71},{"x":3418.5,"y":-0.16},
{"x":3440,"y":0.82},{"x":3461.5,"y":0.58},{"x":3483,"y":0.04},{"x":3504.5,"y":0.45},{"x":3526,"y":0.60},{"x":3547.5,"y":0.69},{"x":3569,"y":0.26},{"x":3590.5,"y":0.60},{"x":3612,"y":0.56},{"x":3633.5,"y":0.39},
{"x":3655,"y":0.56},{"x":3676.5,"y":-0.85},{"x":3698,"y":0.52},{"x":3719.5,"y":0.47},{"x":3741,"y":0.21},{"x":3762.5,"y":0.26},{"x":3784,"y":0.06},{"x":3805.5,"y":0.82},{"x":3827,"y":0.30},{"x":3848.5,"y":0.39},
{"x":3870,"y":0.52},{"x":3891.5,"y":0.26},{"x":3913,"y":0.60},{"x":3934.5,"y":0.69},{"x":3956,"y":0.90},{"x":3977.5,"y":0.02},{"x":3999,"y":0.45},{"x":4020.5,"y":0.26},{"x":4042,"y":0.26},{"x":4063.5,"y":0.39},
{"x":4085,"y":0.30},{"x":4106.5,"y":0.34},{"x":4128,"y":0.04},{"x":4149.5,"y":0.32},{"x":4171,"y":0.06},{"x":4192.5,"y":0.65},{"x":4214,"y":0.21},{"x":4235.5,"y":-0.07},{"x":4257,"y":-0.89},{"x":4278.5,"y":-0.05},
{"x":4300,"y":0.45},{"x":4321.5,"y":0.21},{"x":4343,"y":0.80},{"x":4364.5,"y":0.34},{"x":4386,"y":-0.20},{"x":4407.5,"y":0.49},{"x":4429,"y":0.19},{"x":4450.5,"y":0.47},{"x":4472,"y":0.77},{"x":4493.5,"y":0.23},
{"x":4515,"y":-0.22},{"x":4536.5,"y":0.88},{"x":4558,"y":0.15},{"x":4579.5,"y":0.86},{"x":4601,"y":0.21},{"x":4622.5,"y":0.49},{"x":4644,"y":0.28},{"x":4665.5,"y":0.32},{"x":4687,"y":0.43},{"x":4708.5,"y":0.17},
{"x":4730,"y":0.30},{"x":4751.5,"y":0.23},{"x":4773,"y":0.32},{"x":4794.5,"y":0.15},{"x":4816,"y":0.36},{"x":4837.5,"y":0.60},{"x":4859,"y":0.28},{"x":4880.5,"y":0.71},{"x":4902,"y":0.28},{"x":4923.5,"y":0.32},
{"x":4945,"y":0.39},{"x":4966.5,"y":0.21},{"x":4988,"y":0.45},{"x":5009.5,"y":0.00},{"x":5031,"y":-0.44},{"x":5052.5,"y":0.32},{"x":5074,"y":0.17},{"x":5095.5,"y":0.34},{"x":5117,"y":0.47},{"x":5138.5,"y":0.88},
{"x":5160,"y":0.34},{"x":5181.5,"y":0.23},{"x":5203,"y":-0.05},{"x":5224.5,"y":0.52},{"x":5246,"y":0.00},{"x":5267.5,"y":0.77},{"x":5289,"y":0.32},{"x":5310.5,"y":0.02},{"x":5332,"y":0.54},{"x":5353.5,"y":-0.46},
{"x":5375,"y":0.62},{"x":5396.5,"y":0.21},{"x":5418,"y":0.60},{"x":5439.5,"y":0.17},{"x":5461,"y":0.32},{"x":5482.5,"y":0.54},{"x":5504,"y":0.06},{"x":5525.5,"y":0.21},{"x":5547,"y":0.56},{"x":5568.5,"y":-0.29},
{"x":5590,"y":0.17},{"x":5611.5,"y":0.60},{"x":5633,"y":0.84},{"x":5654.5,"y":0.17},{"x":5676,"y":0.73},{"x":5697.5,"y":-0.09},{"x":5719,"y":0.58},{"x":5740.5,"y":0.17},{"x":5762,"y":0.93},{"x":5783.5,"y":0.26},
{"x":5805,"y":-0.13},{"x":5826.5,"y":0.82},{"x":5848,"y":-0.16},{"x":5869.5,"y":0.43},{"x":5891,"y":-0.09},{"x":5912.5,"y":0.56},{"x":5934,"y":0.39},{"x":5955.5,"y":-0.16},{"x":5977,"y":0.47},{"x":5998.5,"y":-0.18},
{"x":6020,"y":0.08},{"x":6041.5,"y":0.19},{"x":6063,"y":0.00},{"x":6084.5,"y":0.23},{"x":6106,"y":0.17},{"x":6127.5,"y":0.26},{"x":6149,"y":0.13},{"x":6170.5,"y":0.28},{"x":6192,"y":0.30},{"x":6213.5,"y":-0.20},
{"x":6235,"y":0.65},{"x":6256.5,"y":0.21},{"x":6278,"y":0.67},{"x":6299.5,"y":0.88},{"x":6321,"y":0.47},{"x":6342.5,"y":0.65},{"x":6364,"y":0.04},{"x":6385.5,"y":0.62},{"x":6407,"y":0.17},{"x":6428.5,"y":0.43},
{"x":6450,"y":-0.09},{"x":6471.5,"y":0.69},{"x":6493,"y":0.86}],
"E": [{"x":0,"y":0.19},{"x":21.5,"y":0.65},{"x":43,"y":0.62},{"x":64.5,"y":0.84},{"x":86,"y":0.65},{"x":107.5,"y":0.67},{"x":129,"y":0.43},{"x":150.5,"y":0.32},{"x":172,"y":-0.13},{"x":193.5,"y":0.08},
{"x":215,"y":0.19},{"x":236.5,"y":0.36},{"x":258,"y":0.02},{"x":279.5,"y":0.36},{"x":301,"y":0.60},{"x":322.5,"y":0.39},{"x":344,"y":0.93},{"x":365.5,"y":0.73},{"x":387,"y":0.52},{"x":408.5,"y":0.43},
{"x":430,"y":-0.11},{"x":451.5,"y":-0.61},{"x":473,"y":0.23},{"x":494.5,"y":0.41},{"x":516,"y":0.41},{"x":537.5,"y":0.41},{"x":559,"y":0.93},{"x":580.5,"y":0.65},{"x":602,"y":-0.09},{"x":623.5,"y":0.71},
{"x":645,"y":0.75},{"x":666.5,"y":0.73},{"x":688,"y":0.69},{"x":709.5,"y":0.23},{"x":731,"y":0.73},{"x":752.5,"y":0.60},{"x":774,"y":0.21},{"x":795.5,"y":0.75},{"x":817,"y":0.23},{"x":838.5,"y":0.00},
{"x":860,"y":0.60},{"x":881.5,"y":0.58},{"x":903,"y":0.80},{"x":924.5,"y":0.52},{"x":946,"y":-0.09},{"x":967.5,"y":0.47},{"x":989,"y":0.62},{"x":1010.5,"y":0.56},{"x":1032,"y":0.32},{"x":1053.5,"y":0.21},
{"x":1075,"y":0.75},{"x":1096.5,"y":0.41},{"x":1118,"y":0.82},{"x":1139.5,"y":0.28},{"x":1161,"y":0.75},{"x":1182.5,"y":0.06},{"x":1204,"y":0.47},{"x":1225.5,"y":0.82},{"x":1247,"y":0.52},{"x":1268.5,"y":0.80},
{"x":1290,"y":0.47},{"x":1311.5,"y":0.69},{"x":1333,"y":0.75},{"x":1354.5,"y":0.52},{"x":1376,"y":0.93},{"x":1397.5,"y":0.47},{"x":1419,"y":-0.20},{"x":1440.5,"y":0.47},{"x":1462,"y":0.56},{"x":1483.5,"y":0.13},
{"x":1505,"y":-0.26},{"x":1526.5,"y":-0.05},{"x":1548,"y":0.60},{"x":1569.5,"y":-0.11},{"x":1591,"y":0.71},{"x":1612.5,"y":0.15},{"x":1634,"y":0.73},{"x":1655.5,"y":0.36},{"x":1677,"y":-0.26},{"x":1698.5,"y":0.73},
{"x":1720,"y":0.41},{"x":1741.5,"y":-0.26},{"x":1763,"y":0.71},{"x":1784.5,"y":0.21},{"x":1806,"y":0.75},{"x":1827.5,"y":0.19},{"x":1849,"y":0.82},{"x":1870.5,"y":0.99},{"x":1892,"y":0.08},{"x":1913.5,"y":0.56},
{"x":1935,"y":0.15},{"x":1956.5,"y":0.52},{"x":1978,"y":-0.03},{"x":1999.5,"y":0.73},{"x":2021,"y":0.26},{"x":2042.5,"y":0.36},{"x":2064,"y":-0.05},{"x":2085.5,"y":0.45},{"x":2107,"y":-0.42},{"x":2128.5,"y":0.45},
{"x":2150,"y":0.99},{"x":2171.5,"y":-0.33},{"x":2193,"y":0.71},{"x":2214.5,"y":0.36},{"x":2236,"y":0.47},{"x":2257.5,"y":0.21},{"x":2279,"y":0.56},{"x":2300.5,"y":0.36},{"x":2322,"y":0.54},{"x":2343.5,"y":-0.31},
{"x":2365,"y":0.43},{"x":2386.5,"y":0.39},{"x":2408,"y":0.32},{"x":2429.5,"y":0.26},{"x":2451,"y":0.17},{"x":2472.5,"y":0.15},{"x":2494,"y":0.26},{"x":2515.5,"y":1.00},{"x":2537,"y":-0.13},{"x":2558.5,"y":0.10},
{"x":2580,"y":0.36},{"x":2601.5,"y":0.41},{"x":2623,"y":0.41},{"x":2644.5,"y":0.28},{"x":2666,"y":0.04},{"x":2687.5,"y":0.28},{"x":2709,"y":0.21},{"x":2730.5,"y":0.28},{"x":2752,"y":0.56},{"x":2773.5,"y":0.19},
{"x":2795,"y":0.88},{"x":2816.5,"y":0.17},{"x":2838,"y":0.93},{"x":2859.5,"y":0.56},{"x":2881,"y":0.19},{"x":2902.5,"y":0.47},{"x":2924,"y":0.69},{"x":2945.5,"y":-0.26},{"x":2967,"y":0.84},{"x":2988.5,"y":0.28},
{"x":3010,"y":0.32},{"x":3031.5,"y":0.21},{"x":3053,"y":0.52},{"x":3074.5,"y":0.19},{"x":3096,"y":0.43},{"x":3117.5,"y":-0.09},{"x":3139,"y":0.52},{"x":3160.5,"y":0.13},{"x":3182,"y":0.58},{"x":3203.5,"y":-0.11},
{"x":3225,"y":0.47},{"x":3246.5,"y":0.52},{"x":3268,"y":-0.33},{"x":3289.5,"y":0.60},{"x":3311,"y":0.43},{"x":3332.5,"y":0.69},{"x":3354,"y":0.43},{"x":3375.5,"y":0.19},{"x":3397,"y":0.43},{"x":3418.5,"y":0.43},
{"x":3440,"y":0.56},{"x":3461.5,"y":0.32},{"x":3483,"y":0.43},{"x":3504.5,"y":0.56},{"x":3526,"y":0.02},{"x":3547.5,"y":0.60},{"x":3569,"y":0.39},{"x":3590.5,"y":0.58},{"x":3612,"y":0.60},{"x":3633.5,"y":0.21},
{"x":3655,"y":-0.85},{"x":3676.5,"y":0.58},{"x":3698,"y":0.45},{"x":3719.5,"y":0.32},{"x":3741,"y":0.21},{"x":3762.5,"y":-0.05},{"x":3784,"y":0.17},{"x":3805.5,"y":0.43},{"x":3827,"y":0.19},{"x":3848.5,"y":0.45},
{"x":3870,"y":0.30},{"x":3891.5,"y":0.58},{"x":3913,"y":0.30},{"x":3934.5,"y":0.02},{"x":3956,"y":0.43},{"x":3977.5,"y":0.02},{"x":3999,"y":0.45},{"x":4020.5,"y":0.47},{"x":4042,"y":0.43},{"x":4063.5,"y":0.34},
{"x":4085,"y":-0.20},{"x":4106.5,"y":0.04},{"x":4128,"y":0.06},{"x":4149.5,"y":0.06},{"x":4171,"y":0.08},{"x":4192.5,"y":0.58},{"x":4214,"y":0.23},{"x":4235.5,"y":-0.89},{"x":4257,"y":0.75},{"x":4278.5,"y":-0.26},
{"x":4300,"y":0.39},{"x":4321.5,"y":0.17},{"x":4343,"y":0.39},{"x":4364.5,"y":0.04},{"x":4386,"y":0.43},{"x":4407.5,"y":0.54},{"x":4429,"y":0.56},{"x":4450.5,"y":0.65},{"x":4472,"y":0.82},{"x":4493.5,"y":0.97},
{"x":4515,"y":0.17},{"x":4536.5,"y":0.84},{"x":4558,"y":0.52},{"x":4579.5,"y":0.30},{"x":4601,"y":0.49},{"x":4622.5,"y":-0.48},{"x":4644,"y":0.32},{"x":4665.5,"y":0.71},{"x":4687,"y":0.39},{"x":4708.5,"y":-0.26},
{"x":4730,"y":0.49},{"x":4751.5,"y":0.32},{"x":4773,"y":0.04},{"x":4794.5,"y":0.39},{"x":4816,"y":0.65},{"x":4837.5,"y":0.15},{"x":4859,"y":0.32},{"x":4880.5,"y":0.60},{"x":4902,"y":0.23},{"x":4923.5,"y":0.71},
{"x":4945,"y":0.62},{"x":4966.5,"y":0.21},{"x":4988,"y":0.73},{"x":5009.5,"y":-0.44},{"x":5031,"y":0.36},{"x":5052.5,"y":0.34},{"x":5074,"y":0.32},{"x":5095.5,"y":0.69},{"x":5117,"y":0.52},{"x":5138.5,"y":0.28},
{"x":5160,"y":-0.05},{"x":5181.5,"y":0.06},{"x":5203,"y":0.36},{"x":5224.5,"y":0.32},{"x":5246,"y":0.73},{"x":5267.5,"y":0.65},{"x":5289,"y":0.67},{"x":5310.5,"y":0.34},{"x":5332,"y":-0.09},{"x":5353.5,"y":0.67},
{"x":5375,"y":0.36},{"x":5396.5,"y":0.56},{"x":5418,"y":0.34},{"x":5439.5,"y":0.39},{"x":5461,"y":0.54},{"x":5482.5,"y":0.45},{"x":5504,"y":0.23},{"x":5525.5,"y":0.28},{"x":5547,"y":0.21},{"x":5568.5,"y":0.32},
{"x":5590,"y":0.02},{"x":5611.5,"y":0.54},{"x":5633,"y":0.73},{"x":5654.5,"y":0.45},{"x":5676,"y":0.65},{"x":5697.5,"y":0.56},{"x":5719,"y":0.28},{"x":5740.5,"y":0.15},{"x":5762,"y":0.02},{"x":5783.5,"y":0.80},
{"x":5805,"y":0.65},{"x":5826.5,"y":0.60},{"x":5848,"y":0.47},{"x":5869.5,"y":0.54},{"x":5891,"y":0.32},{"x":5912.5,"y":-0.13},{"x":5934,"y":0.62},{"x":5955.5,"y":0.28},{"x":5977,"y":0.54},{"x":5998.5,"y":0.41},
{"x":6020,"y":0.52},{"x":6041.5,"y":0.45},{"x":6063,"y":0.28},{"x":6084.5,"y":0.45},{"x":6106,"y":0.39},{"x":6127.5,"y":0.71},{"x":6149,"y":0.13},{"x":6170.5,"y":-0.20},{"x":6192,"y":0.62},{"x":6213.5,"y":0.62},
{"x":6235,"y":0.43},{"x":6256.5,"y":0.45},{"x":6278,"y":0.32},{"x":6299.5,"y":0.47},{"x":6321,"y":-0.03},{"x":6342.5,"y":0.49},{"x":6364,"y":0.30},{"x":6385.5,"y":-0.03},{"x":6407,"y":-0.07},{"x":6428.5,"y":-0.22},
{"x":6450,"y":-0.09}],
"F": [{"x":0,"y":0.19},{"x":21.5,"y":0.39},{"x":43,"y":0.58},{"x":64.5,"y":0.59},{"x":86,"y":0.57},{"x":107.5,"y":0.56},{"x":129,"y":0.19},{"x":150.5,"y":0.58},{"x":172,"y":-0.07},{"x":193.5,"y":0.43},
{"x":215,"y":0.32},{"x":236.5,"y":0.93},{"x":258,"y":0.21},{"x":279.5,"y":0.54},{"x":301,"y":0.02},{"x":322.5,"y":0.56},{"x":344,"y":0.97},{"x":365.5,"y":0.56},{"x":387,"y":0.43},{"x":408.5,"y":0.08},
{"x":430,"y":-0.61},{"x":451.5,"y":0.80},{"x":473,"y":0.28},{"x":494.5,"y":0.60},{"x":516,"y":0.47},{"x":537.5,"y":0.93},{"x":559,"y":0.17},{"x":580.5,"y":0.36},{"x":602,"y":0.26},{"x":623.5,"y":0.28},
{"x":645,"y":0.23},{"x":666.5,"y":0.21},{"x":688,"y":0.17},{"x":709.5,"y":0.19},{"x":731,"y":0.71},{"x":752.5,"y":0.43},{"x":774,"y":0.60},{"x":795.5,"y":0.43},{"x":817,"y":0.60},{"x":838.5,"y":0.08},
{"x":860,"y":0.88},{"x":881.5,"y":0.80},{"x":903,"y":0.69},{"x":924.5,"y":0.28},{"x":946,"y":0.43},{"x":967.5,"y":0.60},{"x":989,"y":0.28},{"x":1010.5,"y":0.21},{"x":1032,"y":0.73},{"x":1053.5,"y":0.43},
{"x":1075,"y":0.71},{"x":1096.5,"y":0.43},{"x":1118,"y":0.84},{"x":1139.5,"y":0.49},{"x":1161,"y":0.60},{"x":1182.5,"y":0.15},{"x":1204,"y":0.82},{"x":1225.5,"y":0.90},{"x":1247,"y":0.82},{"x":1268.5,"y":0.65},
{"x":1290,"y":0.90},{"x":1311.5,"y":0.67},{"x":1333,"y":0.95},{"x":1354.5,"y":0.52},{"x":1376,"y":0.26},{"x":1397.5,"y":0.45},{"x":1419,"y":0.39},{"x":1440.5,"y":0.54},{"x":1462,"y":0.02},{"x":1483.5,"y":0.28},
{"x":1505,"y":0.73},{"x":1526.5,"y":0.02},{"x":1548,"y":0.73},{"x":1569.5,"y":0.08},{"x":1591,"y":0.19},{"x":1612.5,"y":0.15},{"x":1634,"y":0.47},{"x":1655.5,"y":0.56},{"x":1677,"y":0.32},{"x":1698.5,"y":0.71},
{"x":1720,"y":0.75},{"x":1741.5,"y":0.39},{"x":1763,"y":0.13},{"x":1784.5,"y":0.00},{"x":1806,"y":-0.11},{"x":1827.5,"y":0.65},{"x":1849,"y":0.71},{"x":1870.5,"y":0.99},{"x":1892,"y":0.82},{"x":1913.5,"y":0.62},
{"x":1935,"y":-0.16},{"x":1956.5,"y":0.43},{"x":1978,"y":0.10},{"x":1999.5,"y":0.15},{"x":2021,"y":0.15},{"x":2042.5,"y":0.21},{"x":2064,"y":0.34},{"x":2085.5,"y":0.65},{"x":2107,"y":0.82},{"x":2128.5,"y":0.95},
{"x":2150,"y":0.69},{"x":2171.5,"y":0.15},{"x":2193,"y":0.54},{"x":2214.5,"y":0.75},{"x":2236,"y":0.88},{"x":2257.5,"y":0.67},{"x":2279,"y":0.95},{"x":2300.5,"y":0.52},{"x":2322,"y":-0.11},{"x":2343.5,"y":0.30},
{"x":2365,"y":0.43},{"x":2386.5,"y":0.32},{"x":2408,"y":0.02},{"x":2429.5,"y":0.73},{"x":2451,"y":0.73},{"x":2472.5,"y":0.99},{"x":2494,"y":0.34},{"x":2515.5,"y":-0.24},{"x":2537,"y":0.00},{"x":2558.5,"y":0.28},
{"x":2580,"y":0.47},{"x":2601.5,"y":0.00},{"x":2623,"y":-0.11},{"x":2644.5,"y":0.06},{"x":2666,"y":0.39},{"x":2687.5,"y":0.56},{"x":2709,"y":0.75},{"x":2730.5,"y":0.86},{"x":2752,"y":0.88},{"x":2773.5,"y":0.88},
{"x":2795,"y":-0.18},{"x":2816.5,"y":0.21},{"x":2838,"y":0.23},{"x":2859.5,"y":-0.11},{"x":2881,"y":0.21},{"x":2902.5,"y":-0.26},{"x":2924,"y":0.21},{"x":2945.5,"y":0.84},{"x":2967,"y":0.30},{"x":2988.5,"y":0.34},
{"x":3010,"y":0.21},{"x":3031.5,"y":0.56},{"x":3053,"y":0.17},{"x":3074.5,"y":0.47},{"x":3096,"y":-0.09},{"x":3117.5,"y":0.47},{"x":3139,"y":0.32},{"x":3160.5,"y":0.45},{"x":3182,"y":0.39},{"x":3203.5,"y":0.60},
{"x":3225,"y":0.88},{"x":3246.5,"y":0.34},{"x":3268,"y":0.60},{"x":3289.5,"y":0.23},{"x":3311,"y":0.58},{"x":3332.5,"y":-0.20},{"x":3354,"y":0.32},{"x":3375.5,"y":0.43},{"x":3397,"y":0.54},{"x":3418.5,"y":0.45},
{"x":3440,"y":0.43},{"x":3461.5,"y":0.60},{"x":3483,"y":0.52},{"x":3504.5,"y":-0.26},{"x":3526,"y":0.67},{"x":3547.5,"y":0.32},{"x":3569,"y":0.56},{"x":3590.5,"y":0.34},{"x":3612,"y":0.49},{"x":3633.5,"y":-0.76},
{"x":3655,"y":0.39},{"x":3676.5,"y":0.02},{"x":3698,"y":0.10},{"x":3719.5,"y":0.17},{"x":3741,"y":0.21},{"x":3762.5,"y":0.28},{"x":3784,"y":0.21},{"x":3805.5,"y":0.60},{"x":3827,"y":0.26},{"x":3848.5,"y":0.47},
{"x":3870,"y":0.56},{"x":3891.5,"y":0.39},{"x":3913,"y":0.77},{"x":3934.5,"y":0.02},{"x":3956,"y":0.45},{"x":3977.5,"y":0.45},{"x":3999,"y":0.52},{"x":4020.5,"y":0.21},{"x":4042,"y":-0.07},{"x":4063.5,"y":-0.74},
{"x":4085,"y":0.30},{"x":4106.5,"y":-0.11},{"x":4128,"y":-0.65},{"x":4149.5,"y":0.32},{"x":4171,"y":0.80},{"x":4192.5,"y":0.28},{"x":4214,"y":-0.65},{"x":4235.5,"y":0.39},{"x":4257,"y":-0.26},{"x":4278.5,"y":0.39},
{"x":4300,"y":0.26},{"x":4321.5,"y":0.34},{"x":4343,"y":0.52},{"x":4364.5,"y":0.39},{"x":4386,"y":0.47},{"x":4407.5,"y":0.54},{"x":4429,"y":0.19},{"x":4450.5,"y":0.52},{"x":4472,"y":-0.55},{"x":4493.5,"y":0.84},
{"x":4515,"y":0.10},{"x":4536.5,"y":0.80},{"x":4558,"y":0.52},{"x":4579.5,"y":0.36},{"x":4601,"y":0.23},{"x":4622.5,"y":0.21},{"x":4644,"y":0.19},{"x":4665.5,"y":0.21},{"x":4687,"y":0.23},{"x":4708.5,"y":-0.35},
{"x":4730,"y":0.49},{"x":4751.5,"y":0.52},{"x":4773,"y":0.58},{"x":4794.5,"y":0.56},{"x":4816,"y":0.52},{"x":4837.5,"y":0.26},{"x":4859,"y":0.32},{"x":4880.5,"y":0.21},{"x":4902,"y":0.26},{"x":4923.5,"y":0.43},
{"x":4945,"y":0.49},{"x":4966.5,"y":0.19},{"x":4988,"y":0.26},{"x":5009.5,"y":0.32},{"x":5031,"y":0.43},{"x":5052.5,"y":0.65},{"x":5074,"y":0.73},{"x":5095.5,"y":0.82},{"x":5117,"y":0.65},{"x":5138.5,"y":0.08},
{"x":5160,"y":0.00},{"x":5181.5,"y":0.00},{"x":5203,"y":0.10},{"x":5224.5,"y":0.65},{"x":5246,"y":0.52},{"x":5267.5,"y":0.73},{"x":5289,"y":0.60},{"x":5310.5,"y":0.23},{"x":5332,"y":0.73},{"x":5353.5,"y":0.77},
{"x":5375,"y":0.26},{"x":5396.5,"y":0.80},{"x":5418,"y":0.28},{"x":5439.5,"y":0.69},{"x":5461,"y":0.67},{"x":5482.5,"y":0.45},{"x":5504,"y":0.02},{"x":5525.5,"y":-0.74},{"x":5547,"y":0.45},{"x":5568.5,"y":0.08},
{"x":5590,"y":0.43},{"x":5611.5,"y":0.67},{"x":5633,"y":0.60},{"x":5654.5,"y":0.56},{"x":5676,"y":0.60},{"x":5697.5,"y":0.43},{"x":5719,"y":0.56},{"x":5740.5,"y":0.45},{"x":5762,"y":0.56},{"x":5783.5,"y":0.52},
{"x":5805,"y":0.60},{"x":5826.5,"y":0.43},{"x":5848,"y":0.45},{"x":5869.5,"y":0.45},{"x":5891,"y":0.15},{"x":5912.5,"y":0.32},{"x":5934,"y":0.36},{"x":5955.5,"y":0.45},{"x":5977,"y":0.52},{"x":5998.5,"y":0.52},
{"x":6020,"y":0.45},{"x":6041.5,"y":-0.03},{"x":6063,"y":0.21},{"x":6084.5,"y":-0.05},{"x":6106,"y":0.73},{"x":6127.5,"y":0.36},{"x":6149,"y":0.21},{"x":6170.5,"y":-0.20},{"x":6192,"y":0.60},{"x":6213.5,"y":0.67},
{"x":6235,"y":0.34},{"x":6256.5,"y":0.43},{"x":6278,"y":0.34},{"x":6299.5,"y":0.43},{"x":6321,"y":0.08},{"x":6342.5,"y":0.47},{"x":6364,"y":0.04},{"x":6385.5,"y":0.45}]
},
"concat": [
{"data": {"name": "A"}, "width": 329.5, "height": 160, "mark": {"type": "line"},
 "encoding": {"x": {"field": "x", "type": "quantitative", "title": null, "scale": {"domain": [-323, 6790], "nice": false, "zero": false}, "axis": {"values": [0,1000,2000,3000,4000,5000,6000], "format": "d", "labels": false}},
  "y": {"field": "y", "type": "quantitative", "title": null, "scale": {"domain": [-0.985, 1.085], "nice": false, "zero": false}, "axis": {"values": [-0.5,0,0.5,1], "format": ".1f", "labels": true}}}},
{"data": {"name": "B"}, "width": 329.5, "height": 160, "mark": {"type": "line"},
 "encoding": {"x": {"field": "x", "type": "quantitative", "title": null, "scale": {"domain": [-323, 6790], "nice": false, "zero": false}, "axis": {"values": [0,1000,2000,3000,4000,5000,6000], "format": "d", "labels": false}},
  "y": {"field": "y", "type": "quantitative", "title": null, "scale": {"domain": [-0.985, 1.085], "nice": false, "zero": false}, "axis": {"values": [-0.5,0,0.5,1], "format": ".1f", "labels": false}}}},
{"data": {"name": "C"}, "width": 329.5, "height": 160, "mark": {"type": "line"},
 "encoding": {"x": {"field": "x", "type": "quantitative", "title": null, "scale": {"domain": [-323, 6790], "nice": false, "zero": false}, "axis": {"values": [0,1000,2000,3000,4000,5000,6000], "format": "d", "labels": false}},
  "y": {"field": "y", "type": "quantitative", "title": null, "scale": {"domain": [-0.985, 1.085], "nice": false, "zero": false}, "axis": {"values": [-0.5,0,0.5,1], "format": ".1f", "labels": false}}}},
{"data": {"name": "B"}, "width": 329.5, "height": 160, "mark": {"type": "line"},
 "encoding": {"x": {"field": "x", "type": "quantitative", "title": null, "scale": {"domain": [-323, 6790], "nice": false, "zero": false}, "axis": {"values": [0,1000,2000,3000,4000,5000,6000], "format": "d", "labels": false}},
  "y": {"field": "y", "type": "quantitative", "title": null, "scale": {"domain": [-0.985, 1.085], "nice": false, "zero": false}, "axis": {"values": [-0.5,0,0.5,1], "format": ".1f", "labels": true}}}},
{"data": {"name": "D"}, "width": 329.5, "height": 160, "mark": {"type": "line"},
 "encoding": {"x": {"field": "x", "type": "quantitative", "title": null, "scale": {"domain": [-323, 6790], "nice": false, "zero": false}, "axis": {"values": [0,1000,2000,3000,4000,5000,6000], "format": "d", "labels": false}},
  "y": {"field": "y", "type": "quantitative", "title": null, "scale": {"domain": [-0.985, 1.085], "nice": false, "zero": false}, "axis": {"values": [-0.5,0,0.5,1], "format": ".1f", "labels": false}}}},
{"data": {"name": "E"}, "width": 329.5, "height": 160, "mark": {"type": "line"},
 "encoding": {"x": {"field": "x", "type": "quantitative", "title": null, "scale": {"domain": [-323, 6790], "nice": false, "zero": false}, "axis": {"values": [0,1000,2000,3000,4000,5000,6000], "format": "d", "labels": false}},
  "y": {"field": "y", "type": "quantitative", "title": null, "scale": {"domain": [-0.985, 1.085], "nice": false, "zero": false}, "axis": {"values": [-0.5,0,0.5,1], "format": ".1f", "labels": false}}}},
{"data": {"name": "C"}, "width": 329.5, "height": 160, "mark": {"type": "line"},
 "encoding": {"x": {"field": "x", "type": "quantitative", "title": null, "scale": {"domain": [-323, 6790], "nice": false, "zero": false}, "axis": {"values": [0,1000,2000,3000,4000,5000,6000], "format": "d", "labels": true}},
  "y": {"field": "y", "type": "quantitative", "title": null, "scale": {"domain": [-0.985, 1.085], "nice": false, "zero": false}, "axis": {"values": [-0.5,0,0.5,1], "format": ".1f", "labels": true}}}},
{"data": {"name": "E"}, "width": 329.5, "height": 160, "mark": {"type": "line"},
 "encoding": {"x": {"field": "x", "type": "quantitative", "title": null, "scale": {"domain": [-323, 6790], "nice": false, "zero": false}, "axis": {"values": [0,1000,2000,3000,4000,5000,6000], "format": "d", "labels": true}},
  "y": {"field": "y", "type": "quantitative", "title": null, "scale": {"domain": [-0.985, 1.085], "nice": false, "zero": false}, "axis": {"values": [-0.5,0,0.5,1], "format": ".1f", "labels": false}}}},
{"data": {"name": "F"}, "width": 329.5, "height": 160, "mark": {"type": "line"},
 "encoding": {"x": {"field": "x", "type": "quantitative", "title": null, "scale": {"domain": [-323, 6790], "nice": false, "zero": false}, "axis": {"values": [0,1000,2000,3000,4000,5000,6000], "format": "d", "labels": true}},
  "y": {"field": "y", "type": "quantitative", "title": null, "scale": {"domain": [-0.985, 1.085], "nice": false, "zero": false}, "axis": {"values": [-0.5,0,0.5,1], "format": ".1f", "labels": false}}}}
]
}
